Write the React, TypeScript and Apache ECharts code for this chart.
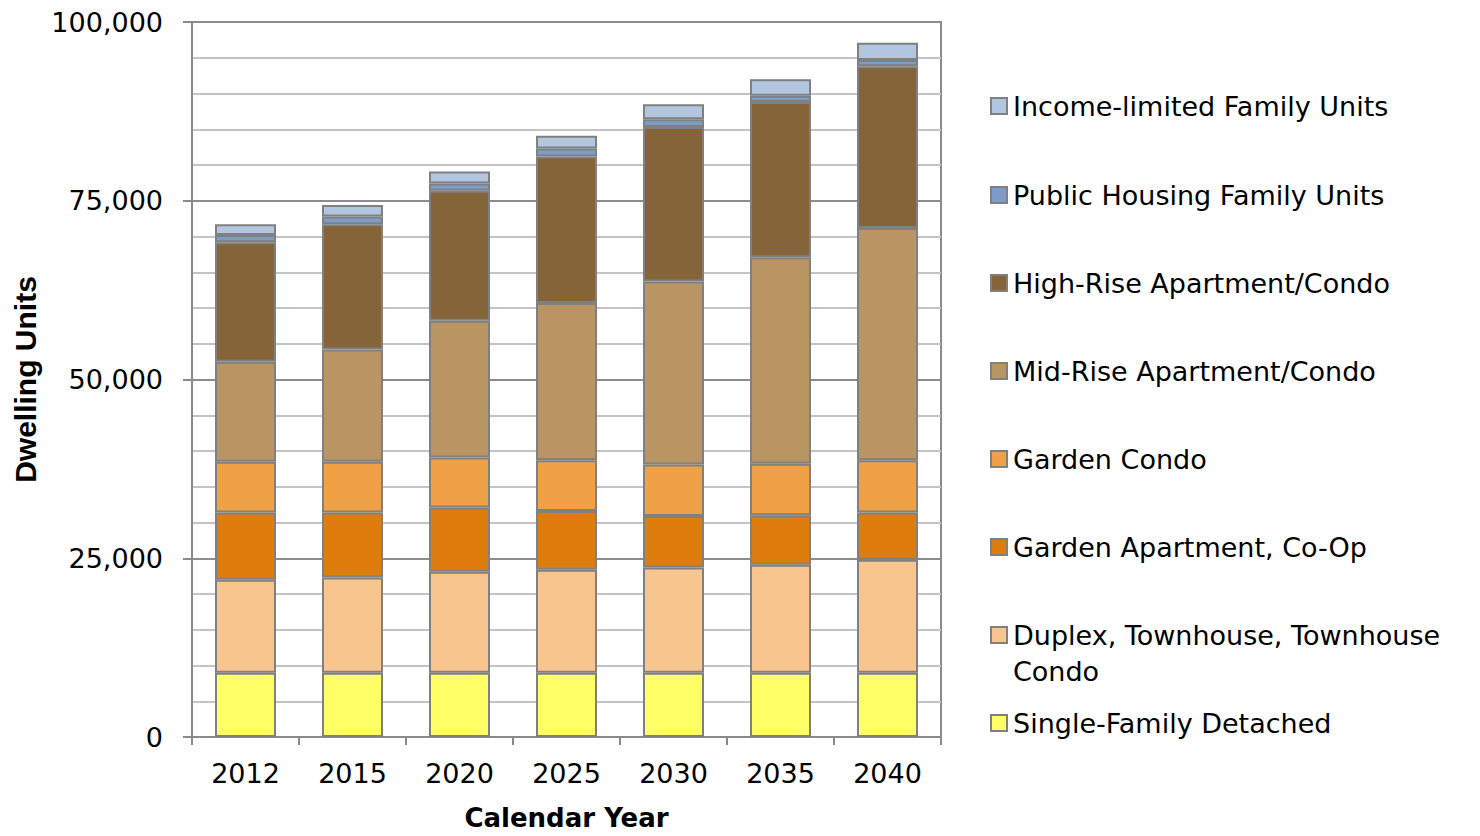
import React, { useEffect, useRef } from "react";
import * as echarts from "echarts";

const years = ["2012", "2015", "2020", "2025", "2030", "2035", "2040"];

const singleFamily = [9000, 9000, 9000, 9000, 9000, 9000, 9000];
const duplex = [13000, 13300, 14100, 14400, 14700, 15100, 15800];
const gardenApt = [9400, 9100, 9000, 8200, 7200, 6900, 6600];
const gardenCondo = [7100, 7100, 7000, 7100, 7200, 7200, 7300];
const midRise = [14000, 15700, 19100, 22000, 25600, 28900, 32500];
const highRise = [16700, 17500, 18200, 20500, 21600, 21700, 22600];
const publicHousing = [1000, 1100, 1000, 1100, 1100, 900, 900];
const incomeLimited = [1500, 1600, 1700, 1800, 2100, 2300, 2400];

const seriesNames = [
  "Single-Family Detached",
  "Duplex, Townhouse, Townhouse Condo",
  "Garden Apartment, Co-Op",
  "Garden Condo",
  "Mid-Rise Apartment/Condo",
  "High-Rise Apartment/Condo",
  "Public Housing Family Units",
  "Income-limited Family Units",
];
const seriesData = [singleFamily, duplex, gardenApt, gardenCondo, midRise, highRise, publicHousing, incomeLimited];
const seriesColors = ["#FFFF66", "#F8C58F", "#DF7C0E", "#F0A045", "#B99563", "#86643A", "#7B9DC8", "#B3C6DF"];

// legend order top to bottom and vertical centres
const legendOrder = [7, 6, 5, 4, 3, 2, 1, 0];
const legendCenters = [106, 195, 283, 371, 459, 547, 635, 723];

const FONT = "DejaVu Sans";

export default function App() {
  const ref = useRef<HTMLDivElement>(null);
  useEffect(() => {
    document.body.style.margin = "0";
    document.body.style.overflow = "hidden";
    document.documentElement.style.overflow = "hidden";
    const chart = echarts.init(ref.current!, null, { renderer: "svg", width: 1480, height: 836 });
    const legends = legendOrder.map((si, i) => {
      const isDuplex = si === 1;
      return {
        orient: "vertical",
        left: 990,
        top: isDuplex ? legendCenters[i] - 54 : legendCenters[i] - 16,
        data: [seriesNames[si]],
        icon: "rect",
        itemWidth: 16,
        itemHeight: 16,
        padding: 0,
        formatter: isDuplex ? () => "\nDuplex, Townhouse, Townhouse\nCondo" : undefined,
        textStyle: {
          fontFamily: FONT,
          fontSize: 27,
          color: "#000",
          lineHeight: isDuplex ? 36 : 32,
          padding: [0, 0, 0, 1],
        },
      };
    });
    chart.setOption({
      animation: false,
      backgroundColor: "#fff",
      grid: {
        left: 192,
        top: 22,
        right: 539,
        bottom: 96,
        show: true,
        borderColor: "#8a8a8a",
        borderWidth: 2,
        containLabel: false,
      },
      legend: legends,
      xAxis: {
        type: "category",
        data: years,
        boundaryGap: true,
        name: "Calendar Year",
        nameLocation: "middle",
        nameGap: 68,
        nameTextStyle: { fontFamily: FONT, fontSize: 26, fontWeight: "bold", color: "#000" },
        axisLine: { lineStyle: { color: "#8a8a8a", width: 2 } },
        axisTick: { show: true, length: 8, alignWithLabel: false, lineStyle: { color: "#8a8a8a", width: 2 } },
        axisLabel: { fontFamily: FONT, fontSize: 27, color: "#000", margin: 23 },
      },
      yAxis: {
        type: "value",
        min: 0,
        max: 100000,
        interval: 25000,
        name: "Dwelling Units",
        nameLocation: "middle",
        nameRotate: 90,
        nameGap: 150,
        nameTextStyle: { fontFamily: "Liberation Sans", fontSize: 30, fontWeight: "bold", color: "#000" },
        axisLine: { show: true, lineStyle: { color: "#8a8a8a", width: 2 } },
        axisTick: { show: true, length: 9, lineStyle: { color: "#8a8a8a", width: 2 } },
        minorTick: { show: false, splitNumber: 5 },
        axisLabel: {
          fontFamily: FONT,
          fontSize: 27,
          color: "#000",
          margin: 29,
          formatter: (v: number) => v.toLocaleString("en-US"),
        },
        splitLine: { show: true, lineStyle: { color: "#8c8c8c", width: 2 } },
        minorSplitLine: { show: true, lineStyle: { color: "#c4c4c4", width: 2 } },
      },
      series: seriesNames.map((name, i) => ({
        name,
        type: "bar",
        stack: "total",
        barWidth: 61,
        data: seriesData[i],
        itemStyle: { color: seriesColors[i], borderColor: "#808080", borderWidth: 2 },
        emphasis: { disabled: true },
      })),
    });
    return () => chart.dispose();
  }, []);
  return <div ref={ref} style={{ width: 1480, height: 836 }} />;
}
